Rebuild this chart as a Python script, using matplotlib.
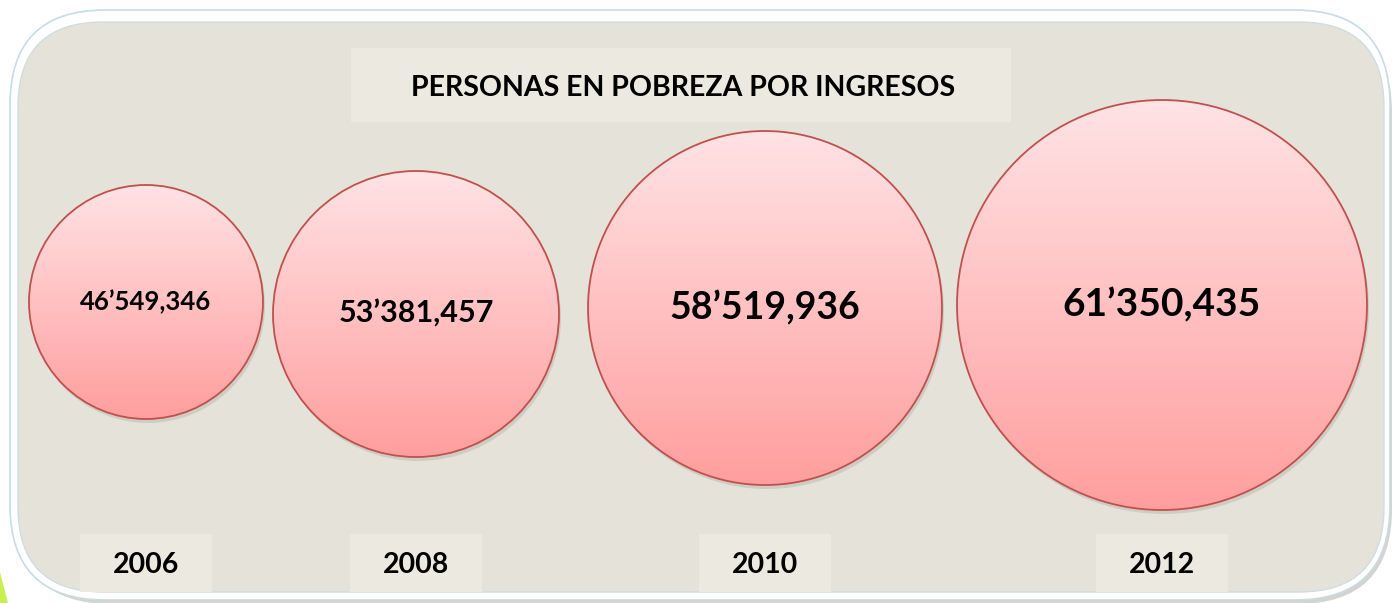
import numpy as np
import matplotlib
matplotlib.use("Agg")
import matplotlib.pyplot as plt
from matplotlib.patches import Circle, FancyBboxPatch, Rectangle, Polygon

years = ["2006", "2008", "2010", "2012"]
personas = ["46\u2019549,346", "53\u2019381,457", "58\u2019519,936", "61\u2019350,435"]
titulo = "PERSONAS EN POBREZA POR INGRESOS"

# layout in pixels (y grows downward)
cx = [146, 416, 765, 1162]
cy = [302, 314, 308, 305]
radius = [117, 143, 177, 205]
value_size = [18.5, 22, 27, 28]

plt.rcParams['font.family'] = ['Lato', 'DejaVu Sans']

fig = plt.figure(figsize=(13.98, 6.03), dpi=100)
ax = fig.add_axes([0, 0, 1, 1])
ax.set_xlim(0, 1398)
ax.set_ylim(603, 0)
ax.axis("off")

# little green corner at bottom left
ax.add_patch(Polygon([(0, 572), (8, 603), (0, 603)], fc="#c8f050", ec="none"))

# outer panel: shadow, white frame, beige fill
ax.add_patch(FancyBboxPatch((16, 18), 1376, 586, boxstyle="round,pad=0,rounding_size=95",
                            fc="#b8b6ae", ec="none", alpha=0.6))
ax.add_patch(FancyBboxPatch((10, 10), 1380, 590, boxstyle="round,pad=0,rounding_size=95",
                            fc="white", ec="#c9dbe3", lw=1.2))
ax.add_patch(FancyBboxPatch((18, 22), 1366, 570, boxstyle="round,pad=0,rounding_size=85",
                            fc="#e5e3d9", ec="#cfdde3", lw=1))

# title box
ax.add_patch(Rectangle((351, 48), 660, 74, fc="#eceae0", ec="none"))
ax.text(683, 88, titulo, ha="center", va="center", fontsize=20.5, fontweight="bold", color="black")

# gradient for circle fill
grad = np.linspace(0, 1, 256).reshape(-1, 1)
top = np.array([255, 227, 229]) / 255
bot = np.array([255, 158, 158]) / 255
img = top + (bot - top) * grad[..., None]
img = np.repeat(img, 2, axis=1)

for i in range(len(years)):
    x, y, r = cx[i], cy[i], radius[i]
    ax.add_patch(Circle((x + 2, y + 4), r, fc="#a8a49a", ec="none", alpha=0.35))
    c = Circle((x, y), r, fc="none", ec="#c0504d", lw=1.3, zorder=3)
    ax.add_patch(c)
    im = ax.imshow(img, extent=(x - r, x + r, y + r, y - r), aspect="auto", zorder=2,
                   interpolation="bilinear")
    im.set_clip_path(c)
    ax.text(x, y, personas[i], ha="center", va="center", fontsize=value_size[i],
            fontweight="bold", color="black", zorder=4)
    # year label box
    ax.add_patch(Rectangle((x - 66, 534), 132, 58, fc="#eceae0", ec="none"))
    ax.text(x, 565, years[i], ha="center", va="center", fontsize=20.5, fontweight="bold",
            color="black")

ax.set_xlim(0, 1398)
ax.set_ylim(603, 0)
fig.savefig("out.png", dpi=100)
